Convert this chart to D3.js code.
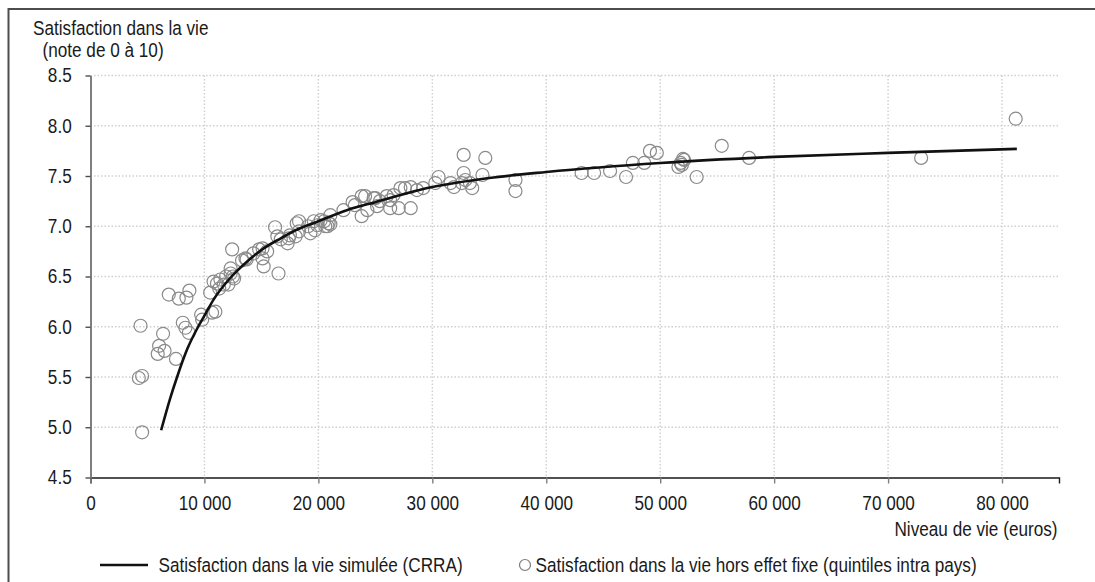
<!DOCTYPE html>
<html lang="fr">
<head>
    <meta charset="UTF-8">
    <title>Satisfaction dans la vie</title>
    <style>
        body { margin: 0; background: #fff; }
        text { font-family: "Liberation Sans", Arial, sans-serif; fill: #1a1a1a; }
    </style>
</head>
<body>
    <script src="https://cdn.jsdelivr.net/npm/d3@7"></script>
    <svg id="chart" width="1095" height="582"></svg>
    <script>
        // nuage de points : niveau de vie (euros) et satisfaction
        var niveauVie = [4240, 4530, 4530, 4390, 5900, 6020, 6370, 6500, 7500, 6870,
            7750, 8420, 8680, 8100, 8330, 8630, 9710, 9800, 10500, 10670,
            10960, 10800, 11300, 11400, 11700, 12100, 12300, 12300, 12600, 12430,
            13600, 13700, 14300, 14800, 15100, 15200, 15500, 16400, 16500, 16200,
            11900, 12500, 11100, 13300, 15100, 16700, 17300, 17500, 18000, 18300,
            19100, 19300, 19600, 19900, 20200, 20600, 20900, 21050, 21050, 22200,
            23200, 23800, 23800, 24300, 24850, 17400, 18100, 18300, 19700, 20500,
            20800, 23000, 24100, 25000, 25150, 25400, 26000, 26300, 26600, 26300,
            27050, 28100, 27200, 27600, 28100, 28650, 29200, 30260, 30550, 31600,
            31900, 32600, 32750, 32900, 33300, 33500, 34400, 32750, 34650, 37300,
            37300, 43100, 44200, 45600, 47000, 47600, 48600, 49100, 49700, 51600,
            51800, 52100, 51900, 52000, 53200, 55400, 57800, 72900, 81200];
        var satisfaction = [5.49, 5.51, 4.95, 6.01, 5.73, 5.81, 5.93, 5.76, 5.68, 6.32,
            6.28, 6.29, 6.36, 6.04, 5.99, 5.94, 6.12, 6.07, 6.34, 6.14,
            6.15, 6.45, 6.38, 6.47, 6.42, 6.42, 6.58, 6.53, 6.48, 6.77,
            6.68, 6.67, 6.73, 6.77, 6.78, 6.60, 6.75, 6.90, 6.53, 6.99,
            6.50, 6.50, 6.43, 6.66, 6.68, 6.87, 6.83, 6.91, 6.90, 7.05,
            7.00, 6.93, 7.05, 7.01, 7.06, 7.00, 7.03, 7.11, 7.02, 7.16,
            7.21, 7.30, 7.10, 7.16, 7.28, 6.88, 7.03, 6.95, 6.96, 7.05,
            7.00, 7.24, 7.30, 7.28, 7.20, 7.25, 7.30, 7.26, 7.31, 7.18,
            7.18, 7.18, 7.38, 7.38, 7.39, 7.36, 7.38, 7.43, 7.49, 7.43,
            7.39, 7.43, 7.53, 7.46, 7.43, 7.38, 7.51, 7.71, 7.68, 7.46,
            7.35, 7.53, 7.53, 7.55, 7.49, 7.63, 7.63, 7.75, 7.73, 7.59,
            7.63, 7.66, 7.61, 7.67, 7.49, 7.80, 7.68, 7.68, 8.07];

        // courbe simulée (CRRA)
        var courbeNiveau = [6200, 7000, 7600, 8500, 9400, 10000, 10800, 12300, 13750, 15200,
            16700, 18000, 20000, 22500, 25000, 30000, 35000, 40000, 50000, 60000, 70000, 81300];
        var courbeSatisf = [4.97, 5.29, 5.50, 5.78, 5.99, 6.11, 6.27, 6.49, 6.65, 6.78,
            6.88, 6.96, 7.05, 7.16, 7.24, 7.39, 7.48, 7.54, 7.63, 7.69, 7.73, 7.77];

        var xTicks = [0, 10000, 20000, 30000, 40000, 50000, 60000, 70000, 80000];
        var yTicks = [4.5, 5.0, 5.5, 6.0, 6.5, 7.0, 7.5, 8.0, 8.5];

        var fs = 19.5;      // taille de police
        var squeeze = 0.88; // police étroite

        var fr = d3.formatLocale({decimal: ",", thousands: " ", grouping: [3], currency: ["", " €"]});
        var fmtX = fr.format(",.0f");
        var fmtY = d3.format(".1f");

        var svg = d3.select("#chart");

        var x = d3.scaleLinear().domain([0, 85000]).range([90.5, 1059]);
        var y = d3.scaleLinear().domain([4.5, 8.5]).range([477.5, 75.5]);

        // cadre (coupé à droite et en bas)
        svg.append("rect")
            .attr("x", 8.5).attr("y", 9)
            .attr("width", 1200).attr("height", 700)
            .attr("fill", "none")
            .attr("stroke", "#4d4d4d")
            .attr("stroke-width", 2);

        // grille pointillée
        svg.append("g").selectAll("line")
            .data(yTicks.slice(1))
            .join("line")
            .attr("x1", x(0)).attr("x2", x(85000))
            .attr("y1", d => y(d)).attr("y2", d => y(d))
            .attr("stroke", "#cfcfcf")
            .attr("stroke-width", 1.4)
            .attr("stroke-dasharray", "1.5,2");

        svg.append("g").selectAll("line")
            .data(xTicks.slice(1))
            .join("line")
            .attr("x1", d => x(d)).attr("x2", d => x(d))
            .attr("y1", y(8.5)).attr("y2", y(4.5))
            .attr("stroke", "#cfcfcf")
            .attr("stroke-width", 1.4)
            .attr("stroke-dasharray", "1.5,2");

        // axe x
        var gx = svg.append("g")
            .attr("transform", "translate(0," + y(4.5) + ")")
            .call(d3.axisBottom(x).tickValues(xTicks).tickFormat(fmtX).tickSize(6).tickPadding(13));
        gx.select(".domain").attr("stroke", "#1a1a1a").attr("stroke-width", 1.4);
        gx.selectAll(".tick line").attr("stroke", "#7f7f7f").attr("stroke-width", 1.4);
        gx.selectAll(".tick text")
            .attr("font-size", fs)
            .attr("font-family", null)
            .attr("transform", "scale(" + squeeze + ",1)");

        // axe y
        var gy = svg.append("g")
            .attr("transform", "translate(" + x(0) + ",0)")
            .call(d3.axisLeft(y).tickValues(yTicks).tickFormat(fmtY).tickSize(5).tickSizeOuter(0));
        gy.select(".domain").attr("stroke", "#7f7f7f").attr("stroke-width", 2);
        gy.selectAll(".tick line").attr("stroke", "#4d4d4d").attr("stroke-width", 1.4);
        gy.selectAll(".tick text")
            .attr("font-size", fs)
            .attr("font-family", null)
            .attr("x", -18.8 / squeeze)
            .attr("transform", "scale(" + squeeze + ",1)");

        function label(txt, px, py, anchor) {
            svg.append("text")
                .attr("transform", "translate(" + px + "," + py + ") scale(" + squeeze + ",1)")
                .attr("text-anchor", anchor || "start")
                .attr("font-size", fs)
                .text(txt);
        }

        label("Satisfaction dans la vie", 33, 34.5);
        label("(note de 0 à 10)", 42.5, 57);
        label("Niveau de vie (euros)", 1057.5, 536, "end");

        // points
        var pts = niveauVie.map((v, i) => [v, satisfaction[i]]);
        svg.append("g").selectAll("circle")
            .data(pts)
            .join("circle")
            .attr("cx", d => x(d[0]))
            .attr("cy", d => y(d[1]))
            .attr("r", 6.5)
            .attr("fill", "none")
            .attr("stroke", "#8a8a8a")
            .attr("stroke-width", 1.2);

        // courbe
        var courbe = courbeNiveau.map((v, i) => [v, courbeSatisf[i]]);
        svg.append("path")
            .datum(courbe)
            .attr("fill", "none")
            .attr("stroke", "#111")
            .attr("stroke-width", 2.6)
            .attr("d", d3.line().x(d => x(d[0])).y(d => y(d[1])).curve(d3.curveMonotoneX));

        // légende
        var ly = 565;
        svg.append("line")
            .attr("x1", 100).attr("x2", 148)
            .attr("y1", ly).attr("y2", ly)
            .attr("stroke", "#111").attr("stroke-width", 2.6);
        label("Satisfaction dans la vie simulée (CRRA)", 158.5, ly + 7);

        svg.append("circle")
            .attr("cx", 525).attr("cy", ly)
            .attr("r", 5.5)
            .attr("fill", "none")
            .attr("stroke", "#7a7a7a")
            .attr("stroke-width", 1.2);
        label("Satisfaction dans la vie hors effet fixe (quintiles intra pays)", 535.5, ly + 7);
    </script>
</body>
</html>
